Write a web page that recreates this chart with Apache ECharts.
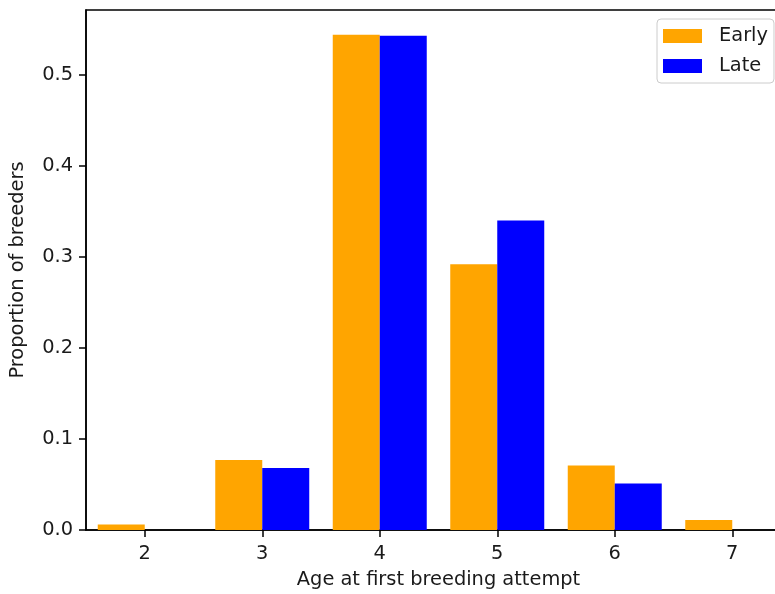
<!DOCTYPE html>
<html>
<head>
<meta charset="utf-8">
<script src="https://cdn.jsdelivr.net/npm/echarts@6/dist/echarts.min.js"></script>
<style>html,body{margin:0;padding:0;background:#fff;overflow:hidden}#c{width:800px;height:594px}</style>
</head>
<body>
<div id="c"></div>
<script>
const ages = ['2', '3', '4', '5', '6', '7'];
const early = [0.006, 0.077, 0.544, 0.292, 0.071, 0.011];
const late = [0, 0.068, 0.543, 0.340, 0.051, 0];
const yTicks = [0, 0.1, 0.2, 0.3, 0.4, 0.5];

const font = 'DejaVu Sans';
const fs = 19.4;
const txt = '#1a1a1a';
const chart = echarts.init(document.getElementById('c'), null, {renderer: 'canvas'});
chart.setOption({
  animation: false,
  backgroundColor: '#fff',
  textStyle: {fontFamily: font},
  grid: {left: 86, top: 10, width: 705, height: 521, containLabel: false,
         show: true, borderColor: '#000', borderWidth: 1.5, backgroundColor: 'transparent'},
  legend: {
    data: ['Early', 'Late'],
    orient: 'vertical', left: 657, top: 19,
    itemWidth: 39, itemHeight: 14, itemGap: 10,
    padding: [7, 6, 7, 6],
    borderColor: '#cccccc', borderWidth: 1, borderRadius: 4,
    backgroundColor: '#fff',
    textStyle: {fontFamily: font, fontSize: fs, color: txt, lineHeight: 20, padding: [0, 0, 0, 12]},
    icon: 'rect'
  },
  xAxis: {
    type: 'category', data: ages,
    name: 'Age at first breeding attempt', nameLocation: 'middle', nameGap: 40,
    nameTextStyle: {fontFamily: font, fontSize: fs, color: txt},
    axisLine: {show: true, lineStyle: {color: '#000', width: 1.5}},
    axisTick: {show: true, alignWithLabel: true, length: 7, lineStyle: {color: '#000', width: 1.5}},
    axisLabel: {fontFamily: font, fontSize: fs, color: txt, margin: 14},
    splitLine: {show: false}
  },
  yAxis: {
    type: 'value', min: 0, max: 0.5713, interval: 0.1,
    name: 'Proportion of breeders', nameLocation: 'middle', nameGap: 59,
    nameTextStyle: {fontFamily: font, fontSize: fs, color: txt},
    axisLine: {show: true, lineStyle: {color: '#000', width: 1.5}},
    axisTick: {show: true, length: 7, lineStyle: {color: '#000', width: 1.5},
               customValues: yTicks},
    axisLabel: {fontFamily: font, fontSize: fs, color: txt, margin: 13,
                customValues: yTicks,
                formatter: v => v.toFixed(1)},
    splitLine: {show: false}
  },
  series: [
    {name: 'Early', type: 'bar', data: early, barWidth: '40%', barGap: '0%',
     itemStyle: {color: '#FFA500'}},
    {name: 'Late', type: 'bar', data: late, barWidth: '40%', barGap: '0%',
     itemStyle: {color: '#0000FF'}}
  ]
});
</script>
</body>
</html>
